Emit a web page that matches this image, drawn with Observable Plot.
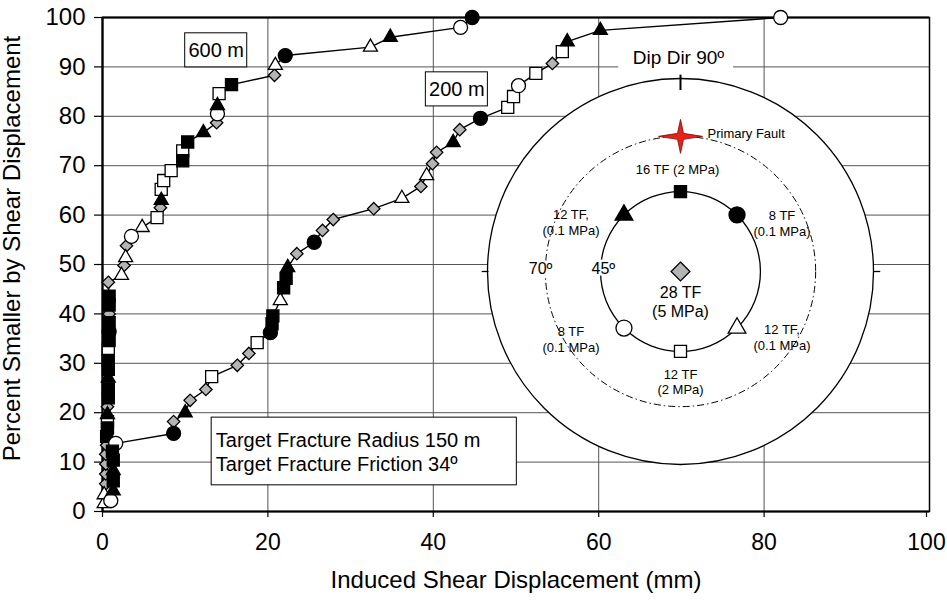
<!DOCTYPE html>
<html>
<head>
<meta charset="utf-8">
<script src="https://cdn.jsdelivr.net/npm/d3@7"></script>
<script src="https://cdn.jsdelivr.net/npm/@observablehq/plot@0.6"></script>
<style>
  body { margin: 0; background: #fff; }
  #chart { position: relative; width: 947px; height: 601px; }
  #chart svg { position: absolute; left: 0; top: 0; }
</style>
</head>
<body>
<div id="chart"></div>
<script>
// Marker kinds: B = black, W = white, G = gray; S = square, C = circle, T = triangle, D = diamond
const xTicks = [0, 20, 40, 60, 80, 100];
const yTicks = [0, 10, 20, 30, 40, 50, 60, 70, 80, 90, 100];

// Cumulative distribution, target fractures 600 m from the primary fault
const curve600Disp = [0.2, 0.2, 0.4, 0.4, 0.4, 0.4, 0.5, 0.5, 0.6, 0.6, 0.6, 0.6, 0.7, 0.7, 0.7, 0.7, 0.7, 0.7, 0.8, 0.8, 0.8, 0.8, 0.8, 0.8,
  0.7, 2.3, 2.6, 2.8, 2.9, 3.5, 4.8, 6.6, 7.0, 7.1, 7.1, 7.4, 8.3, 9.7, 9.7, 10.3, 12.2, 13.8, 13.9, 13.9, 14.1, 15.6, 20.8, 20.9, 22.1, 32.4, 34.8, 43.3, 44.7];
const curve600Pct = [1.6, 3.4, 5.6, 7.6, 9.6, 11.6, 13.4, 15.2, 16.9, 18.2, 19.6, 21.2, 23.0, 24.8, 27.0, 28.8, 30.6, 32.8, 34.6, 36.4, 38.2, 40.0, 41.8, 43.6,
  46.4, 47.8, 49.8, 51.4, 53.8, 55.7, 57.5, 59.5, 61.5, 63.0, 65.2, 67.0, 69.0, 71.0, 73.0, 74.8, 76.7, 78.7, 80.5, 82.2, 84.6, 86.4, 88.3, 90.3, 92.3, 94.0, 96.0, 98.0, 100];
const curve600Kind = ["WT", "WT", "GD", "GD", "GD", "GD", "GD", "BS", "BS", "WS", "BT", "GD", "BS", "BS", "BT", "BS", "BS", "WS", "BS", "BC", "BS", "GD", "BS", "BS",
  "GD", "WT", "GD", "WT", "GD", "WC", "WT", "WS", "GD", "BT", "WS", "WS", "WS", "BS", "WS", "BS", "BT", "GD", "WC", "BT", "WS", "BS", "GD", "WT", "BC", "WT", "BT", "WC", "BC"];

// Cumulative distribution, target fractures 200 m from the primary fault
const curve200Disp = [1.0, 1.3, 1.3, 1.3, 1.3, 1.2, 1.6, 8.6, 8.6, 10.0, 10.6, 12.5, 13.2, 16.3, 17.7, 18.7, 20.3, 20.5, 20.6, 21.5, 21.9, 22.2, 22.4,
  23.5, 25.6, 26.6, 27.9, 32.8, 36.2, 38.5, 39.2, 39.9, 40.4, 42.4, 43.2, 45.7, 49.0, 49.7, 50.3, 52.4, 54.4, 55.6, 56.2, 60.2, 82.0];
const curve200Pct = [2.2, 4.2, 6.2, 8.3, 10.4, 12.2, 13.8, 15.8, 18.2, 20.0, 22.5, 24.7, 27.3, 29.6, 32.0, 34.2, 36.2, 38.0, 39.6, 42.7, 45.3, 47.2, 49.4,
  52.2, 54.5, 56.9, 59.1, 61.3, 63.4, 65.8, 68.0, 70.4, 72.7, 74.7, 77.3, 79.6, 81.8, 84.0, 86.2, 88.7, 90.7, 93.1, 95.1, 97.4, 100];
const curve200Kind = ["WC", "BT", "BS", "BT", "BS", "BS", "WC", "BC", "GD", "BT", "GD", "GD", "WS", "GD", "GD", "WS", "BC", "BS", "BS", "WT", "BS", "BS", "BT",
  "GD", "BC", "GD", "GD", "GD", "WT", "GD", "WT", "GD", "GD", "BT", "GD", "BC", "WS", "WS", "WC", "WS", "GD", "WS", "BT", "BT", "WC"];

// Annotation boxes on the main chart (data units)
const noteText = ["600 m", "200 m", "Target Fracture Radius 150 m\nTarget Fracture Friction 34º"];
const noteX1 = [10.0, 39.1, 13.2];
const noteX2 = [17.5, 46.6, 50.1];
const noteY1 = [89.9, 82.0, 5.3];
const noteY2 = [96.8, 88.9, 19.0];

// Stereographic inset: target fracture sets (dip, dip direction) and their labels
const insetKind   = ["BS", "BC", "WT", "WS", "WC", "BT", "GD"];
const insetDip    = [45, 45, 45, 45, 45, 45, 0];
const insetDipDir = [90, 135, 225, 270, 315, 45, 90];
const insetLabel  = ["16 TF (2 MPa)", "8 TF\n(0.1 MPa)", "12 TF,\n(0.1 MPa)", "12 TF\n(2 MPa)", "8 TF\n(0.1 MPa)", "12 TF,\n(0.1 MPa)", "28 TF\n(5 MPa)"];
const ringDip = [90, 70, 45];
const faultDip = 70, faultDipDir = 90;

// ---- styling ----
const FONT = "'Liberation Sans', Arial, Helvetica, sans-serif";
const styleOf = {
  BS: {symbol: "square",   fill: "black",   r: 6.8},
  WS: {symbol: "square",   fill: "white",   r: 6.8},
  BC: {symbol: "circle",   fill: "black",   r: 7},
  WC: {symbol: "circle",   fill: "white",   r: 7},
  BT: {symbol: "triangle", fill: "black",   r: 5.2},
  WT: {symbol: "triangle", fill: "white",   r: 5.2},
  GD: {symbol: "diamond2", fill: "#b4b4b4", r: 5.6}
};
const insetStyleOf = {
  BS: {symbol: "square",   fill: "black",   r: 6.8},
  WS: {symbol: "square",   fill: "white",   r: 6.8},
  BC: {symbol: "circle",   fill: "black",   r: 8},
  WC: {symbol: "circle",   fill: "white",   r: 8},
  BT: {symbol: "triangle", fill: "black",   r: 6.6},
  WT: {symbol: "triangle", fill: "white",   r: 6.6},
  GD: {symbol: "diamond2", fill: "#b4b4b4", r: 8.5}
};
const drawOrder = ["GD", "WS", "WT", "WC", "BS", "BT", "BC"];

const toRows = (xs, ys, ks) => xs.map((x, i) => ({x, y: ys[i], kind: ks[i]}));
const rows600 = toRows(curve600Disp, curve600Pct, curve600Kind);
const rows200 = toRows(curve200Disp, curve200Pct, curve200Kind);
const notes = noteText.map((t, i) => ({text: t, x1: noteX1[i], x2: noteX2[i], y1: noteY1[i], y2: noteY2[i]}));

function markerMarks(rows, styles) {
  return drawOrder.map(k => {
    const s = styles[k];
    return Plot.dot(rows.filter(d => d.kind === k), {
      x: "x", y: "y", symbol: s.symbol, r: s.r, fill: s.fill, stroke: "black", strokeWidth: 1.3
    });
  });
}

const main = Plot.plot({
  width: 947, height: 601,
  marginLeft: 102, marginRight: 18, marginTop: 17, marginBottom: 90,
  style: {fontFamily: FONT, background: "white", color: "black", overflow: "visible"},
  x: {domain: [0, 100], label: null},
  y: {domain: [0, 100], label: null},
  marks: [
    Plot.gridY(yTicks, {stroke: "#555", strokeOpacity: 1, strokeWidth: 1}),
    Plot.gridX(xTicks, {stroke: "#555", strokeOpacity: 1, strokeWidth: 1}),
    Plot.frame({stroke: "black", strokeWidth: 1.5}),
    Plot.ruleX([0], {stroke: "black", strokeWidth: 2.2}),
    Plot.ruleY([0, 100], {stroke: "black", strokeWidth: 2.2}),
    Plot.axisY(yTicks, {tickSize: 8, tickPadding: 9, fontSize: 24, label: null, strokeWidth: 1.2}),
    // last x tick label nudged left so it stays inside the page
    Plot.axisX(xTicks.slice(0, -1), {tickSize: 6, tickPadding: 16, fontSize: 23, label: null, strokeWidth: 1.2}),
    Plot.axisX(xTicks.slice(-1), {tickSize: 6, tickPadding: 16, fontSize: 23, label: null, strokeWidth: 1.2, dx: -3}),
    Plot.line(rows600, {x: "x", y: "y", stroke: "black", strokeWidth: 1.4}),
    Plot.line(rows200, {x: "x", y: "y", stroke: "black", strokeWidth: 1.4}),
    ...markerMarks(rows600, styleOf),
    ...markerMarks(rows200, styleOf),
    Plot.rect(notes, {x1: "x1", x2: "x2", y1: "y1", y2: "y2", fill: "white", stroke: "black", strokeWidth: 1}),
    Plot.text(notes.slice(0, 2), {x: d => (d.x1 + d.x2) / 2, y: d => (d.y1 + d.y2) / 2, text: "text", fontSize: 20, fill: "black"}),
    Plot.text(notes.slice(2), {x: d => d.x1 + 0.5, y: d => (d.y1 + d.y2) / 2, text: "text", fontSize: 20, fill: "black", textAnchor: "start", lineHeight: 1.17}),
    Plot.text(["Induced Shear Displacement (mm)"], {frameAnchor: "bottom", dy: 76, fontSize: 24, fill: "black", textAnchor: "middle"}),
    Plot.text(["Percent Smaller by Shear Displacement"], {frameAnchor: "left", rotate: -90, dx: -90, dy: -16, fontSize: 24, fill: "black", textAnchor: "middle"})
  ]
});

// ---- inset stereonet (equal-angle projection, outer ring = 90º dip) ----
const R = 193, CX = 680, CY = 271;
const proj = (dip, dipDir) => {
  const r = Math.tan((dip / 2) * Math.PI / 180);
  const t = (dipDir - 90) * Math.PI / 180;
  return {x: r * Math.sin(t), y: r * Math.cos(t)};
};
const insetRows = insetKind.map((k, i) => ({kind: k, label: insetLabel[i], ...proj(insetDip[i], insetDipDir[i])}));
const fault = [{...proj(faultDip, faultDipDir), label: "Primary Fault"}];
const ringRows = ringDip.map(d => ({dip: d, r: R * Math.tan((d / 2) * Math.PI / 180)}));
const labelOffset = {
  BS: {dx: -3, dy: -23}, BC: {dx: 45, dy: 8}, WT: {dx: 45, dy: 9}, WS: {dx: 0, dy: 30},
  WC: {dx: -53, dy: 11}, BT: {dx: -53, dy: 7}, GD: {dx: 0, dy: 30}
};

const fourPointStar = {
  draw(ctx, size) {
    const s = Math.sqrt(size / Math.PI);
    const w = 2.2 * s, h = 1.7 * s, k = 0.3 * s;
    ctx.moveTo(0, -h); ctx.lineTo(k, -k); ctx.lineTo(w, 0); ctx.lineTo(k, k);
    ctx.lineTo(0, h); ctx.lineTo(-k, k); ctx.lineTo(-w, 0); ctx.lineTo(-k, -k);
    ctx.closePath();
  }
};

const ringMark = (ring, opts) => Plot.dot([ring], {x: () => 0, y: () => 0, r: ring.r, stroke: "black", ...opts});

const inset = Plot.plot({
  width: 947, height: 601, margin: 0,
  style: {fontFamily: FONT, background: "transparent", color: "black"},
  x: {domain: [-1, 1], range: [CX - R, CX + R], axis: null},
  y: {domain: [-1, 1], range: [CY + R, CY - R], axis: null},
  marks: [
    ringMark(ringRows[0], {fill: "white", strokeWidth: 1.3}),
    ringMark(ringRows[1], {fill: "none", strokeWidth: 1, strokeDasharray: "7,3,1.5,3"}),
    ringMark(ringRows[2], {fill: "none", strokeWidth: 1.3}),
    Plot.rect([{}], {x1: () => -0.32, x2: () => 0.275, y1: () => 1.03, y2: () => 1.19, fill: "white"}),
    Plot.text(["Dip Dir 90º"], {x: () => -0.01, y: () => 1.109, fontSize: 19, fill: "black"}),
    Plot.link([{x1: 0, y1: 0.94, x2: 0, y2: 1.02}], {x1: "x1", y1: "y1", x2: "x2", y2: "y2", stroke: "black", strokeWidth: 2}),
    Plot.link([{x1: -1.03, y1: 0, x2: -0.995, y2: 0}, {x1: 1.0, y1: 0, x2: 1.035, y2: 0}], {x1: "x1", y1: "y1", x2: "x2", y2: "y2", stroke: "black", strokeWidth: 1.3}),
    Plot.text(["70º"], {x: () => -0.725, y: () => 0.015, fontSize: 16, fill: "black", stroke: "white", strokeWidth: 5}),
    Plot.text(["45º"], {x: () => -0.40, y: () => 0.015, fontSize: 16, fill: "black", stroke: "white", strokeWidth: 5}),
    ...markerMarks(insetRows, insetStyleOf),
    Plot.dot(fault, {x: "x", y: "y", symbol: fourPointStar, r: 10, fill: "#e8221b", stroke: "#7a0b08", strokeWidth: 0.8}),
    Plot.text(fault, {x: "x", y: "y", text: "label", dx: 27, dy: -3, textAnchor: "start", fontSize: 13, fill: "black"}),
    ...insetKind.map(k => Plot.text(insetRows.filter(d => d.kind === k), {
      x: "x", y: "y", text: "label", dx: labelOffset[k].dx, dy: labelOffset[k].dy,
      fontSize: k === "GD" ? 16 : 13, lineHeight: k === "GD" ? 1.15 : 1.2, fill: "black"
    }))
  ]
});

const host = document.getElementById("chart");
host.append(main, inset);
</script>
</body>
</html>
